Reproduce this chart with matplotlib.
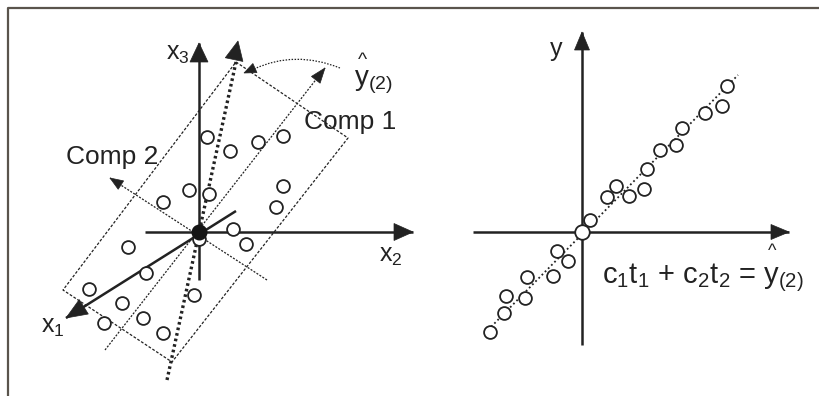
import numpy as np
import matplotlib
matplotlib.use("Agg")
import matplotlib.pyplot as plt
from matplotlib.patches import Polygon, PathPatch
from matplotlib.path import Path

plt.rcParams['font.family'] = ['Liberation Sans', 'DejaVu Sans']
plt.rcParams['mathtext.fontset'] = 'custom'
plt.rcParams['mathtext.rm'] = 'Liberation Sans'

INK = '#222222'
FRAME = '#5a544c'

# ---- left panel: X-space with the two PLS components ----
left_origin = (199, 232)
x3_axis = [(199, 280), (199, 43)]
x2_axis = [(145, 232), (413, 232)]
x1_axis = [(236, 211), (66, 318)]
yhat_dir = [(167, 380), (236, 62)]
yhat_tip = (238, 41)
comp1_axis = [(105, 350), (325, 68)]
comp2_axis = [(267, 280), (110, 178)]
plane_corners = [(236, 62), (348, 138), (172, 362), (63, 290)]
rotation_arc = [(254, 69), (295, 50), (340, 68)]
arc_tip = (244, 73)

left_x = [207, 230, 258, 283, 189, 209, 163, 283, 276, 233, 246, 128,
          199, 146, 89, 122, 194, 104, 143, 163]
left_y = [137, 151, 142, 136, 190, 194, 202, 186, 207, 229, 244, 247,
          239, 273, 289, 303, 295, 323, 318, 333]

# ---- right panel: y against the fitted combination ----
right_origin = (582, 232)
y_axis = [(582, 345), (582, 32)]
t_axis = [(473, 232), (789, 232)]
fit_line = [(488, 330), (738, 75)]

right_x = [727, 722, 705, 682, 676, 660, 647, 644, 629, 616, 607, 590,
           557, 568, 553, 527, 525, 506, 504, 490]
right_y = [86, 106, 113, 128, 145, 150, 169, 189, 196, 186, 197, 220,
           251, 261, 276, 277, 298, 296, 313, 332]


def arrow_head(ax, tail, tip, length, width, z=5):
    tail = np.asarray(tail, float)
    tip = np.asarray(tip, float)
    d = tip - tail
    d /= np.hypot(*d)
    n = np.array([-d[1], d[0]])
    base = tip - d * length
    pts = [tip, base + n * width / 2, base - n * width / 2]
    ax.add_patch(Polygon(pts, closed=True, facecolor=INK, edgecolor=INK,
                         lw=0.5, zorder=z))


def seg(ax, pts, **kw):
    xs, ys = zip(*pts)
    ax.plot(xs, ys, solid_capstyle='butt', **kw)


W, H = 819, 396
fig = plt.figure(figsize=(W / 100, H / 100), dpi=100)
ax = fig.add_axes([0, 0, 1, 1])
ax.set_xlim(0, W)
ax.set_ylim(H, 0)
ax.axis('off')

# page frame
ax.plot([7.5, 7.5, W], [H, 7.5, 7.5], color=FRAME, lw=1.6, zorder=1)

# dashed plane spanned by the components
rect = plane_corners + [plane_corners[0]]
seg(ax, rect, color=INK, lw=0.9, ls=(0, (2.2, 1.4)), zorder=2)

# component directions
seg(ax, comp1_axis, color=INK, lw=0.9, ls=(0, (1.6, 1.2)), zorder=2)
arrow_head(ax, comp1_axis[0], comp1_axis[1], 15, 11)
seg(ax, comp2_axis, color=INK, lw=0.9, ls=(0, (1.6, 1.2)), zorder=2)
arrow_head(ax, comp2_axis[0], comp2_axis[1], 13, 10)

# y-hat direction (heavy dotted)
seg(ax, yhat_dir, color=INK, lw=2.4, ls=(0, (0.8, 0.9)), zorder=3)
arrow_head(ax, yhat_dir[0], yhat_tip, 19, 18)

# rotation arc
arc_path = Path(rotation_arc, [Path.MOVETO, Path.CURVE3, Path.CURVE3])
ax.add_patch(PathPatch(arc_path, facecolor='none', edgecolor=INK, lw=0.9,
                       ls=(0, (1.2, 1.2)), zorder=2))
arrow_head(ax, rotation_arc[1], arc_tip, 12, 10)

# variable axes
seg(ax, x3_axis, color=INK, lw=1.8, zorder=4)
arrow_head(ax, x3_axis[0], x3_axis[1], 19, 18)
seg(ax, x2_axis, color=INK, lw=1.8, zorder=4)
arrow_head(ax, x2_axis[0], x2_axis[1], 19, 17)
seg(ax, x1_axis, color=INK, lw=1.8, zorder=4)
arrow_head(ax, x1_axis[0], x1_axis[1], 21, 17)

# observations
ax.scatter(left_x, left_y, s=85, facecolor='white', edgecolor=INK,
           linewidth=1.3, zorder=6)
ax.scatter([left_origin[0]], [left_origin[1]], s=110, facecolor='#151515',
           edgecolor='#151515', zorder=7)

# labels, left panel
ax.text(166, 60, r'x$\mathregular{_3}$', fontsize=18, color=INK,
        ha='left', va='baseline')
ax.text(379, 262, r'x$\mathregular{_2}$', fontsize=18, color=INK,
        ha='left', va='baseline')
ax.text(41, 333, r'x$\mathregular{_1}$', fontsize=18, color=INK,
        ha='left', va='baseline')
ax.text(304, 129, 'Comp 1', fontsize=19, color=INK, ha='left', va='baseline')
ax.text(66, 164, 'Comp 2', fontsize=19, color=INK, ha='left', va='baseline')
ax.text(354, 85, r'y$\mathregular{_{(2)}}$', fontsize=20, color=INK,
        ha='left', va='baseline')
ax.text(362, 65, '^', fontsize=14, color=INK, ha='center', va='baseline')

# right panel
seg(ax, fit_line, color=INK, lw=1.3, ls=(0, (1.0, 1.5)), zorder=2)
seg(ax, y_axis, color=INK, lw=1.8, zorder=4)
arrow_head(ax, y_axis[0], y_axis[1], 18, 15)
seg(ax, t_axis, color=INK, lw=1.8, zorder=4)
arrow_head(ax, t_axis[0], t_axis[1], 18, 15)

ax.scatter(right_x, right_y, s=85, facecolor='white', edgecolor=INK,
           linewidth=1.3, zorder=6)
ax.scatter([right_origin[0]], [right_origin[1]], s=110, facecolor='white',
           edgecolor=INK, linewidth=1.3, zorder=7)

ax.text(550, 56, 'y', fontsize=18, color=INK, ha='left', va='baseline')
ax.text(602, 283, r'c$\mathregular{_1}$t$\mathregular{_1}$ + '
        r'c$\mathregular{_2}$t$\mathregular{_2}$ = y$\mathregular{_{(2)}}$',
        fontsize=21, color=INK, ha='left', va='baseline')
ax.text(772, 256, '^', fontsize=13, color=INK, ha='center', va='baseline')

fig.savefig('out.png', dpi=100)
